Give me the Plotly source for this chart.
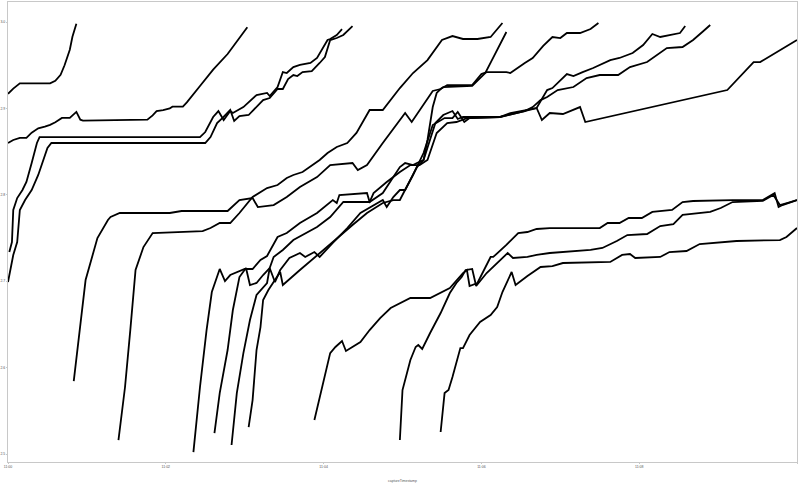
import pandas as pd
import plotly.graph_objects as go

BASE = pd.Timestamp("2024-01-01 11:00:00")

# seconds after 11:00:00 and measured values, one pair of lists per series
s_a = [0, 4, 9, 32, 36, 40, 43, 47, 49, 52]
v_a = [2.917, 2.923, 2.929, 2.929, 2.932, 2.939, 2.950, 2.968, 2.983, 2.998]

s_b = [0, 4, 9, 14, 18, 23, 28, 32, 36, 41, 47, 49, 52, 55, 57, 106, 110, 113, 118, 123, 125, 133, 136, 146, 156, 167, 176, 182]
v_b = [2.860, 2.8635, 2.866, 2.866, 2.872, 2.877, 2.879, 2.881, 2.884, 2.889, 2.889, 2.892, 2.896, 2.887, 2.886, 2.887, 2.892, 2.897, 2.898, 2.900, 2.902, 2.902, 2.907, 2.926, 2.945, 2.963, 2.982, 2.994]

s_c = [1, 3, 4, 7, 11, 14, 18, 22, 24, 146, 150, 156, 160, 164, 169, 171, 179, 189, 197, 199, 205, 209, 212, 217, 222, 230, 235, 243, 245, 250, 254]
v_c = [2.7338, 2.7454, 2.7825, 2.7963, 2.8056, 2.8149, 2.8368, 2.86, 2.8669, 2.8669, 2.8727, 2.8901, 2.897, 2.8866, 2.897, 2.8947, 2.9016, 2.9155, 2.9179, 2.9144, 2.9248, 2.9421, 2.941, 2.9479, 2.9503, 2.9526, 2.9584, 2.9792, 2.9804, 2.985, 2.9919]

s_d = [0, 4, 7, 9, 13, 18, 23, 27, 30, 33, 150, 154, 159, 163, 169, 172, 176, 183, 189, 194, 199, 205, 209, 213, 217, 220, 224, 231, 237, 241, 245, 250, 255, 262]
v_d = [2.6991, 2.7304, 2.7454, 2.7825, 2.794, 2.8056, 2.823, 2.8403, 2.8542, 2.86, 2.86, 2.8669, 2.8831, 2.8889, 2.8982, 2.8855, 2.8912, 2.8924, 2.9016, 2.9097, 2.912, 2.9225, 2.9225, 2.934, 2.9387, 2.9375, 2.9421, 2.9433, 2.9526, 2.9595, 2.9792, 2.9815, 2.985, 2.9954]

s_e = [50, 59, 68, 76, 78, 85, 123, 132, 167, 176, 186, 190, 202, 212, 222, 235, 245, 262, 266, 273, 285, 298,
       302, 307, 313, 323, 329, 334, 353, 360, 364, 379, 382, 386, 393, 399, 407, 414, 420, 425, 435, 443, 449]
v_e = [2.5845, 2.7014, 2.75, 2.7709, 2.7744, 2.779, 2.779, 2.7813, 2.7813, 2.794, 2.7963, 2.7859, 2.7882, 2.7975, 2.8091, 2.8206, 2.8345, 2.8368, 2.8287, 2.8345, 2.86, 2.8866,
       2.8947, 2.8843, 2.8982, 2.9202, 2.9225, 2.9271, 2.9271, 2.9398, 2.9421, 2.9421, 2.941, 2.9456, 2.9526, 2.9584, 2.9723, 2.9827, 2.9815, 2.9873, 2.9873, 2.9919, 2.9989]

s_f = [84, 89, 93, 97, 103, 110, 148, 154, 161, 169, 176, 186, 197, 205, 212, 217, 224, 231, 237, 243, 250, 258, 265, 275, 285, 298, 308, 319, 330, 338, 346, 357, 367, 376]
v_f = [2.5162, 2.5776, 2.6435, 2.713, 2.7396, 2.7558, 2.7581, 2.7616, 2.7674, 2.7674, 2.779, 2.7975, 2.8079, 2.8114, 2.8195, 2.823, 2.8264, 2.8334, 2.8403, 2.8484, 2.8554, 2.86, 2.8716, 2.8982, 2.8982, 2.9236, 2.941, 2.956, 2.9792, 2.9838, 2.9804, 2.9804, 2.9827, 2.9989]

s_g = [141, 146, 151, 155, 161, 165, 169, 180, 186, 192, 197, 202, 205, 212, 222, 235, 247, 250, 252, 273, 275, 285, 298, 302, 308, 311,
       316, 325, 331, 338, 342, 346, 374, 382, 395, 402, 410, 414, 425, 430, 437, 445, 458, 465, 475, 483, 490, 496, 511, 515]
v_g = [2.5023, 2.5776, 2.6435, 2.6875, 2.7142, 2.7003, 2.7072, 2.7142, 2.7142, 2.7246, 2.7292, 2.742, 2.7512, 2.7558, 2.7674, 2.779, 2.794, 2.7906, 2.7998, 2.8021, 2.7917, 2.8021, 2.8322, 2.8368, 2.8345, 2.8368,
       2.8403, 2.8831, 2.8924, 2.897, 2.8878, 2.8901, 2.8901, 2.8947, 2.8982, 2.9005, 2.9213, 2.9236, 2.9398, 2.9375, 2.9421, 2.9468, 2.956, 2.9584, 2.9642, 2.9734, 2.9862, 2.9827, 2.9873, 2.9954]

s_h = [157, 161, 167, 171, 176, 181, 184, 189, 194, 199, 202, 209, 217, 235, 245, 255, 275, 278, 288, 298, 306, 313,
       319, 326, 334, 341, 349, 374, 393, 399, 405, 410, 418, 430, 440, 450, 464, 473, 486, 501, 513, 521, 528, 534]
v_h = [2.5243, 2.5706, 2.6204, 2.6667, 2.7049, 2.7153, 2.6956, 2.698, 2.7072, 2.7153, 2.7281, 2.7362, 2.7477, 2.7628, 2.7744, 2.7917, 2.7917, 2.8021, 2.8149, 2.8264, 2.8345, 2.8345,
       2.8403, 2.8716, 2.8831, 2.8843, 2.8889, 2.8901, 2.897, 2.9016, 2.9097, 2.9132, 2.9213, 2.9248, 2.9352, 2.9387, 2.9387, 2.9479, 2.9537, 2.9699, 2.9711, 2.9792, 2.9885, 2.9966]

s_i = [170, 174, 179, 184, 189, 197, 199, 203, 207, 214, 222, 226, 233, 237, 247, 258, 268, 285, 288, 293, 298, 302,
       308, 316, 323, 332, 338, 342, 347, 351, 374, 402, 406, 412, 422, 435, 439, 547, 567, 572, 600]
v_i = [2.5105, 2.5706, 2.6169, 2.6551, 2.6841, 2.698, 2.7153, 2.6991, 2.713, 2.7269, 2.7327, 2.7281, 2.7338, 2.7281, 2.7443, 2.7616, 2.779, 2.794, 2.7859, 2.7975, 2.8056, 2.8056,
       2.823, 2.8484, 2.8808, 2.8889, 2.8889, 2.8959, 2.8843, 2.8889, 2.8901, 2.9005, 2.8866, 2.8947, 2.8936, 2.9016, 2.8843, 2.9213, 2.9537, 2.9537, 2.9792]

s_j = [183, 186, 189, 192, 194, 198, 207, 209, 222, 235, 247, 262, 273, 285, 293, 298,
       306, 311, 316, 319, 323, 326, 329, 331, 353, 363, 368, 379]
v_j = [2.5313, 2.5625, 2.6204, 2.647, 2.6783, 2.6899, 2.7107, 2.6956, 2.713, 2.7304, 2.7454, 2.7651, 2.779, 2.7906, 2.794, 2.794,
       2.8172, 2.8322, 2.8403, 2.8635, 2.9016, 2.9179, 2.9225, 2.9248, 2.926, 2.941, 2.956, 2.9885]

s_k = [233, 245, 249, 254, 257, 262, 268, 275, 283, 291, 298, 306, 321, 336, 346, 349, 351, 357, 367, 369, 379, 388, 395, 402, 412,
       450, 456, 465, 472, 482, 490, 505, 513, 521, 551, 574, 583, 586, 589, 595, 600]
v_k = [2.5394, 2.6169, 2.6239, 2.6308, 2.6193, 2.6239, 2.6297, 2.6435, 2.6574, 2.669, 2.6748, 2.6806, 2.6806, 2.6922, 2.7095, 2.713, 2.6945, 2.698, 2.7281, 2.7281, 2.742, 2.7558, 2.757, 2.7605, 2.7616,
       2.7616, 2.7674, 2.7674, 2.7732, 2.7732, 2.7802, 2.7825, 2.7917, 2.7929, 2.794, 2.794, 2.8021, 2.7859, 2.7882, 2.7917, 2.794]

s_l = [298, 300, 306, 310, 312, 315, 321, 329, 336, 341, 345, 348, 353, 356, 364, 374, 380, 384, 395, 402, 412,
       443, 452, 463, 471, 486, 496, 506, 513, 534, 542, 551, 574, 582, 587, 595, 600]
v_l = [2.5162, 2.5741, 2.6089, 2.6239, 2.6262, 2.6216, 2.6401, 2.6632, 2.6864, 2.698, 2.7049, 2.713, 2.7142, 2.6945, 2.7095, 2.7246, 2.7327, 2.7269, 2.7281, 2.7304, 2.7327,
       2.7362, 2.7385, 2.7466, 2.7535, 2.7547, 2.7639, 2.7662, 2.7767, 2.7802, 2.7848, 2.7917, 2.7929, 2.7998, 2.7882, 2.7917, 2.794]

s_m = [329, 332, 335, 338, 344, 346, 351, 359, 367, 372, 376, 383, 386, 391, 395, 405, 414, 422, 458, 467, 473, 477, 496, 503, 516, 526, 554, 587, 592, 600]
v_m = [2.5255, 2.5706, 2.5741, 2.5892, 2.6227, 2.6227, 2.6378, 2.6528, 2.6609, 2.6702, 2.6875, 2.7107, 2.6956, 2.7014, 2.7061, 2.7165, 2.7176, 2.7211, 2.7223, 2.7304, 2.7315, 2.7269, 2.7281, 2.7338, 2.735, 2.7431, 2.7466, 2.7477, 2.7512, 2.7616]

series = [(s_a, v_a), (s_b, v_b), (s_c, v_c), (s_d, v_d), (s_e, v_e), (s_f, v_f), (s_g, v_g),
          (s_h, v_h), (s_i, v_i), (s_j, v_j), (s_k, v_k), (s_l, v_l), (s_m, v_m)]

fig = go.Figure()
for secs, vals in series:
    t = BASE + pd.to_timedelta(secs, unit="s")
    fig.add_trace(go.Scatter(x=t, y=vals, mode="lines",
                             line=dict(color="black", width=1.8), showlegend=False,
                             hoverinfo="skip"))

tickfont = dict(size=3.5, color="#555", family="Liberation Sans")
axis_common = dict(showgrid=False, zeroline=False, showline=True, mirror=True,
                   linecolor="#c8c8c8", linewidth=1, ticks="outside", ticklen=1,
                   tickcolor="#c8c8c8", tickfont=tickfont)

fig.update_layout(
    width=800, height=484,
    margin=dict(l=8, r=3, t=2, b=22),
    paper_bgcolor="white", plot_bgcolor="white",
    xaxis=dict(range=[BASE, BASE + pd.Timedelta(minutes=10)], dtick=120000,
               tickformat="%H:%M", automargin=False,
               title=dict(text="captureTimestamp", font=dict(size=3.5, color="#555", family="Liberation Sans"), standoff=11),
               **axis_common),
    yaxis=dict(range=[2.4908, 3.0232], dtick=0.1, tickformat=".1f", automargin=False,
               ticklabelstandoff=0, **axis_common),
)

fig.write_html("out.html")
